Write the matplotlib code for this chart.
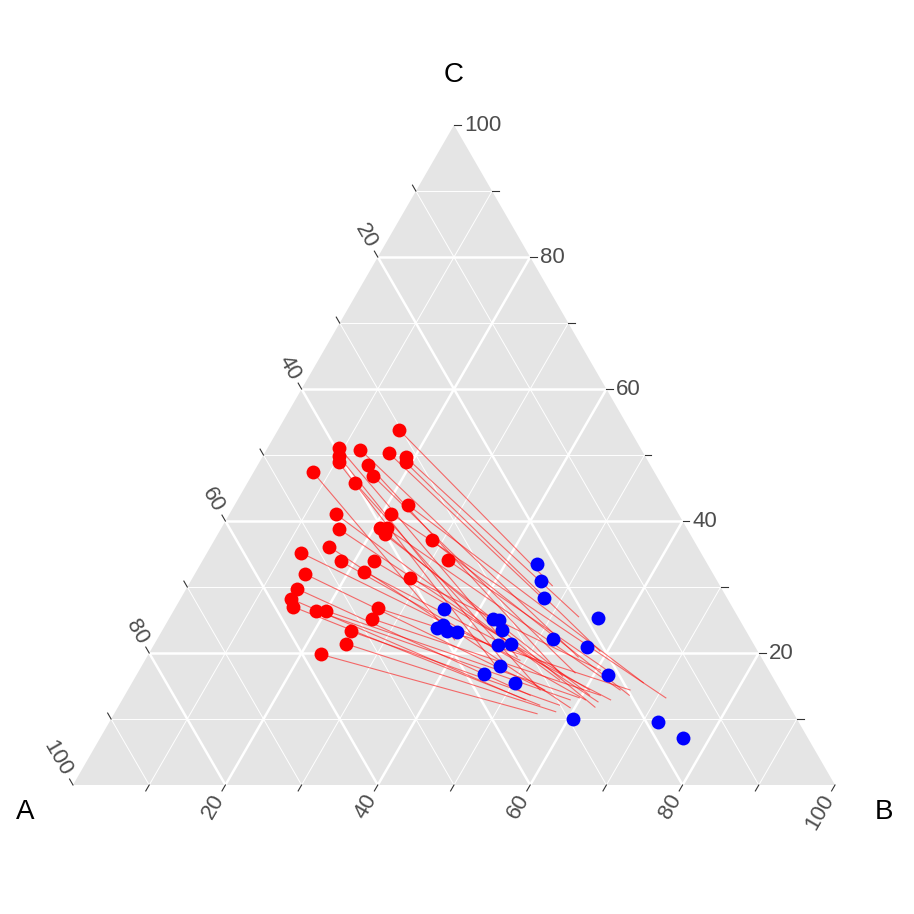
import numpy as np
import matplotlib
matplotlib.use("Agg")
import matplotlib.pyplot as plt

plt.rcParams['font.family'] = ['Liberation Sans', 'DejaVu Sans']

# ternary compositions in percent (A, B, C)
red_a = [30.3, 39.5, 40.2, 40.7, 36.9, 33.4, 31.5, 31.9, 37.0, 37.2, 44.8, 40.1, 34.8,
         45.0, 37.7, 45.7, 40.3, 39.4, 40.1, 48.3, 52.5, 47.9, 43.5, 53.6, 45.6, 40.1,
         55.7, 57.3, 57.6, 54.9, 53.6, 46.6, 48.2, 51.9, 53.5, 57.6, 34.4, 33.8]
red_b = [15.9, 9.4, 10.0, 10.4, 12.3, 16.3, 18.8, 19.2, 14.5, 16.0, 7.8, 14.1, 22.8,
         13.9, 21.2, 15.5, 20.8, 21.7, 21.9, 15.6, 12.3, 18.2, 22.6, 14.4, 22.1, 28.5,
         14.6, 14.5, 15.4, 18.7, 20.0, 26.6, 26.6, 24.8, 25.1, 22.6, 28.5, 32.1]
red_c = [53.8, 51.1, 49.8, 48.9, 50.8, 50.3, 49.7, 48.9, 48.5, 46.8, 47.4, 45.8, 42.4,
         41.1, 41.1, 38.8, 38.9, 38.9, 38.0, 36.1, 35.2, 33.9, 33.9, 32.0, 32.3, 31.4,
         29.7, 28.2, 27.0, 26.4, 26.4, 26.8, 25.2, 23.3, 21.4, 19.8, 37.1, 34.1]

end_a = [22.0, 32.0, 34.2, 35.5, 24.0, 24.1, 20.9, 20.7, 27.5, 25.6, 38.9, 31.5, 17.4,
         28.2, 15.6, 24.8, 25.6, 21.0, 25.4, 28.9, 31.9, 26.3, 25.0, 30.9, 23.0, 22.1,
         33.2, 34.2, 32.7, 28.3, 26.9, 19.7, 24.0, 30.1, 31.1, 33.7, 20.2, 21.0]
end_b = [47.8, 48.6, 46.9, 46.3, 56.6, 47.9, 53.6, 59.0, 56.0, 57.4, 39.1, 54.1, 67.1,
         55.9, 71.2, 62.6, 62.6, 64.6, 61.0, 59.4, 49.2, 60.8, 60.6, 54.7, 64.1, 60.5,
         53.2, 52.9, 55.2, 58.8, 59.9, 65.9, 62.4, 57.8, 57.8, 55.5, 66.2, 61.9]
end_c = [30.2, 19.4, 18.9, 18.2, 19.4, 28.0, 25.5, 20.3, 16.5, 17.0, 22.0, 14.4, 15.5,
         15.9, 13.2, 12.6, 11.8, 14.4, 13.6, 11.7, 18.9, 12.9, 14.4, 14.4, 12.9, 17.4,
         13.6, 12.9, 12.1, 12.9, 13.2, 14.4, 13.6, 12.1, 11.1, 10.8, 13.6, 17.1]

blue_a = [22.3, 23.1, 24.0, 18.4, 38.0, 40.3, 39.3, 39.3, 38.0, 32.3, 31.6, 31.9,
          33.6, 31.8, 35.0, 37.7, 34.3, 25.9, 22.1, 21.5, 29.4, 18.5, 16.4]
blue_b = [44.2, 46.0, 47.7, 56.3, 35.3, 35.9, 36.5, 37.4, 38.8, 42.5, 43.4, 44.6,
          45.2, 46.8, 47.0, 45.5, 50.2, 52.0, 57.0, 61.8, 60.6, 72.0, 76.6]
blue_c = [33.5, 30.9, 28.3, 25.3, 26.7, 23.8, 24.2, 23.3, 23.2, 25.2, 25.0, 23.5,
          21.2, 21.4, 18.0, 16.8, 15.5, 22.1, 20.9, 16.7, 10.0, 9.5, 7.1]

ticks = [10, 20, 30, 40, 50, 60, 70, 80, 90, 100]
tick_labels = ["", "20", "", "40", "", "60", "", "80", "", "100"]

H = np.sqrt(3) / 2


def tern(a, b, c):
    a, b, c = np.asarray(a, float), np.asarray(b, float), np.asarray(c, float)
    s = a + b + c
    b, c = b / s, c / s
    return b + c / 2, c * H


fig = plt.figure(figsize=(9.14, 9.14), dpi=100)
ax = fig.add_axes([0, 0, 1, 1])
ax.set_xlim(-73 / 762, (914 - 73) / 762)
ax.set_ylim((785 - 914) / 762, 785 / 762)
ax.set_aspect('equal')
ax.axis('off')

# panel
tx, ty = tern([100, 0, 0], [0, 100, 0], [0, 0, 100])
ax.fill(tx, ty, color='#E5E5E5', zorder=0, lw=0)

# grid
for v in range(10, 100, 10):
    major = v % 20 == 0
    lw = 1.8 if major else 0.7
    f = v / 100
    # constant A, constant B, constant C
    for p, q in [((f, 0, 1 - f), (f, 1 - f, 0)),
                 ((0, f, 1 - f), (1 - f, f, 0)),
                 ((1 - f, 0, f), (0, 1 - f, f))]:
        x, y = tern([p[0], q[0]], [p[1], q[1]], [p[2], q[2]])
        ax.plot(x, y, color='white', lw=lw, zorder=1, solid_capstyle='butt')

# ticks and tick labels
tl = 0.009
off = 0.016
lab_kw = dict(fontsize=16, color='#4D4D4D')
for v, lab in zip(ticks, tick_labels):
    f = v / 100
    # A axis, left edge
    x0, y0 = tern(f, 0, 1 - f)
    d = np.array([-0.5, H])
    ax.plot([x0, x0 + tl * d[0]], [y0, y0 + tl * d[1]], color='#333333', lw=0.8)
    ax.text(x0 + off * d[0], y0 + off * d[1], lab, rotation=-60, ha='right', va='center',
            rotation_mode='anchor', **lab_kw)
    # B axis, bottom edge
    x0, y0 = tern(1 - f, f, 0)
    d = np.array([-0.5, -H])
    ax.plot([x0, x0 + tl * d[0]], [y0, y0 + tl * d[1]], color='#333333', lw=0.8)
    ax.text(x0 + off * d[0], y0 + off * d[1], lab, rotation=60, ha='right', va='center',
            rotation_mode='anchor', **lab_kw)
    # C axis, right edge
    x0, y0 = tern(0, 1 - f, f)
    ax.plot([x0, x0 + tl], [y0, y0], color='#333333', lw=0.8)
    ax.text(x0 + off * 0.8, y0, lab, ha='left', va='center', **lab_kw)

# vertex titles
ax.text(-0.063, -0.035, "A", fontsize=20, ha='center', va='center')
ax.text(1.064, -0.035, "B", fontsize=20, ha='center', va='center')
ax.text(0.5, 0.932, "C", fontsize=20, ha='center', va='center')

# paths from red points
rx, ry = tern(red_a, red_b, red_c)
ex, ey = tern(end_a, end_b, end_c)
for i in range(len(rx)):
    ax.plot([rx[i], ex[i]], [ry[i], ey[i]], color='red', lw=0.8, alpha=0.55, zorder=2)

ax.scatter(rx, ry, s=100, color='red', zorder=3, linewidths=0)
bx, by = tern(blue_a, blue_b, blue_c)
ax.scatter(bx, by, s=100, color='blue', zorder=4, linewidths=0)

fig.savefig("out.png", dpi=100)
